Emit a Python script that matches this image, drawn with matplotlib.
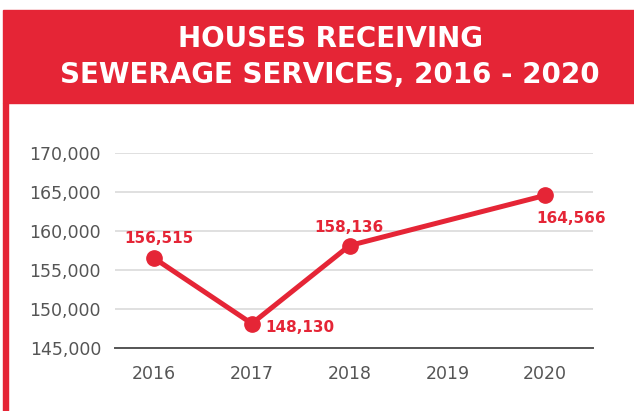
import matplotlib.pyplot as plt
from matplotlib.patches import Rectangle
from matplotlib.ticker import FuncFormatter

# data
years = [2016, 2017, 2018, 2020]
houses = [156515, 148130, 158136, 164566]
tick_years = [2016, 2017, 2018, 2019, 2020]
y_ticks = [145000, 150000, 155000, 160000, 165000, 170000]
title_lines = ["HOUSES RECEIVING", "SEWERAGE SERVICES, 2016 - 2020"]

red = '#e52536'
grey = '#555555'

fig = plt.figure(figsize=(6.34, 4.11), dpi=100)

# header banner + left border
fig.patches.append(Rectangle((3 / 634, 1 - 103 / 411), 1, 93 / 411,
                             transform=fig.transFigure, color=red, zorder=0))
fig.patches.append(Rectangle((3 / 634, 0), 5 / 634, 1 - 103 / 411,
                             transform=fig.transFigure, color=red, zorder=0))
for line, ypx in zip(title_lines, [39, 75]):
    fig.text(330 / 634, 1 - ypx / 411, line, color='white',
             fontsize=20, fontweight='heavy', ha='center', va='center')

ax = fig.add_axes([115 / 634, 1 - 348 / 411, 478 / 634, 195 / 411])
ax.plot(years, houses, color=red, lw=3.6, marker='o', ms=11, zorder=3,
        solid_capstyle='round')

ax.set_xlim(2015.6, 2020.49)
ax.set_ylim(145000, 170000)
ax.set_xticks(tick_years)
ax.set_yticks(y_ticks)
ax.yaxis.set_major_formatter(FuncFormatter(lambda v, p: f"{int(v):,}"))
ax.grid(axis='y', color='#dddddd', lw=1.3)
ax.set_axisbelow(True)
for s in ['top', 'right', 'left']:
    ax.spines[s].set_visible(False)
ax.spines['bottom'].set_color(grey)
ax.spines['bottom'].set_linewidth(1.4)
ax.tick_params(length=0, labelsize=12.5, labelcolor=grey)
ax.tick_params(axis='y', pad=10)
ax.tick_params(axis='x', pad=12)

# data labels (offsets in px)
offsets = [(5, 20, 'center'), (13, -4, 'left'), (-1, 18, 'center'), (26, -23, 'center')]
for x, y, (dx, dy, ha) in zip(years, houses, offsets):
    ax.annotate(f"{y:,}", (x, y), xytext=(dx * 0.72, dy * 0.72),
                textcoords='offset points', ha=ha, va='center',
                color=red, fontsize=11, fontweight='bold')

fig.savefig('out.png', dpi=100)
